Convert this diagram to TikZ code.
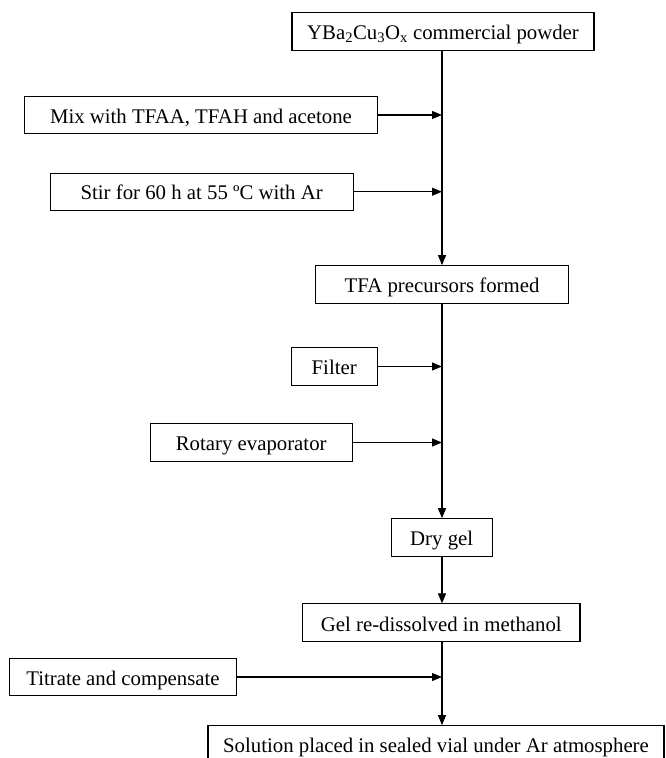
\documentclass[tikz,border=0pt]{standalone}
\usepackage{fontspec}
\setmainfont{Liberation Serif}
\usetikzlibrary{arrows.meta}
\begin{document}
\begin{tikzpicture}[x=1pt,y=-1pt,
  box/.style={draw,line width=1.1pt,inner sep=0pt,align=center,
    font=\fontsize{20.8}{23}\selectfont,text height=16.5pt,text depth=0pt},
  arr/.style={line width=1.1pt,-{Triangle[length=10pt,width=8pt]}}]
\useasboundingbox (0,0) rectangle (665,758);
\clip (0,0) rectangle (665,758);
\fill[white] (0,0) rectangle (665,758);
\coordinate (sp) at (442,0);
\node[box,minimum width=302pt,minimum height=37.5pt] (n1) at (443,31.4) {YBa\textsubscript{2}Cu\textsubscript{3}O\textsubscript{x} commercial powder};
\node[box,minimum width=353.4pt,minimum height=37pt] (n2) at (201,115) {Mix with TFAA, TFAH and acetone};
\node[box,minimum width=303.3pt,minimum height=37pt] (n3) at (201.7,191.7) {Stir for 60 h at 55 ºC with Ar};
\node[box,minimum width=252.6pt,minimum height=37.6pt] (n4) at (442,284.5) {TFA precursors formed};
\node[box,minimum width=86pt,minimum height=37.6pt] (n5) at (334.2,366.5) {Filter};
\node[box,minimum width=202.3pt,minimum height=37.6pt] (n6) at (251.2,442.5) {Rotary evaporator};
\node[box,minimum width=101.3pt,minimum height=37.6pt] (n7) at (441.7,537.5) {Dry gel};
\node[box,minimum width=277.3pt,minimum height=37.8pt] (n8) at (441.3,622.8) {Gel re-dissolved in methanol};
\node[box,minimum width=227.4pt,minimum height=37.4pt] (n9) at (123,677) {Titrate and compensate};
\node[box,minimum width=456pt,minimum height=38pt] (n10) at (436,744.7) {Solution placed in sealed vial under Ar atmosphere};
\draw[arr] (n1.south -| sp) -- (n4.north -| sp);
\draw[arr] (n4.south -| sp) -- (n7.north -| sp);
\draw[arr] (n7.south -| sp) -- (n8.north -| sp);
\draw[arr] (n8.south -| sp) -- (n10.north -| sp);
\draw[arr] (n2.east) -- (n2.east -| sp);
\draw[arr] (n3.east) -- (n3.east -| sp);
\draw[arr] (n5.east) -- (n5.east -| sp);
\draw[arr] (n6.east) -- (n6.east -| sp);
\draw[arr] (n9.east) -- (n9.east -| sp);
\end{tikzpicture}
\end{document}
